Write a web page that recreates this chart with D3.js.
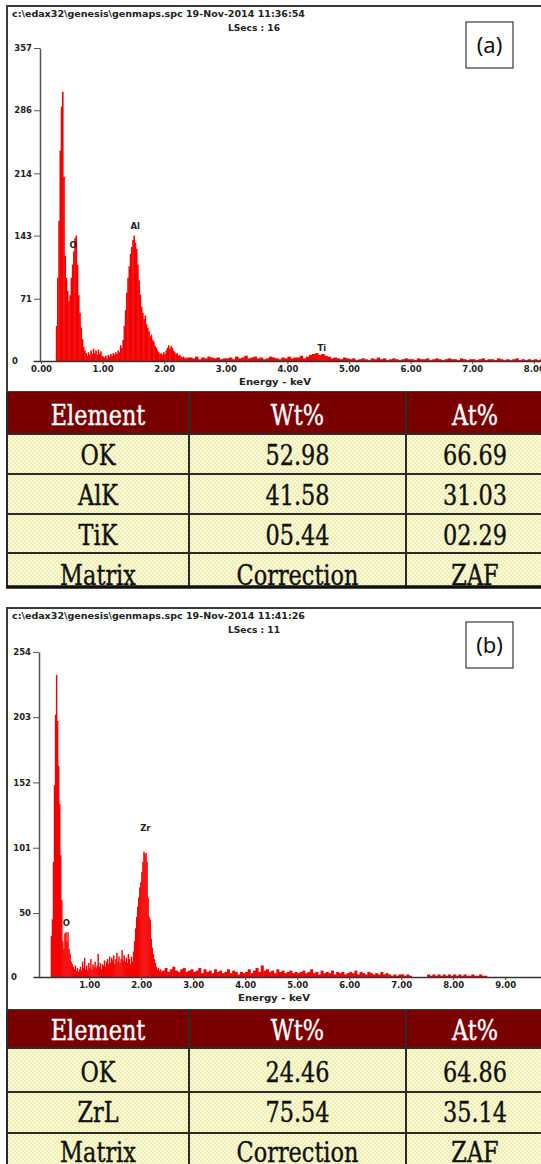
<!DOCTYPE html>
<html>
<head>
<meta charset="utf-8">
<script src="https://cdn.jsdelivr.net/npm/d3@7.9.0/dist/d3.min.js"></script>
<style>
  body { margin: 0; background: #fff; }
</style>
</head>
<body>
<script>
// ─── DATA ────────────────────────────────────────────────────────────────────
// spectrum (a): fine channels 0.20–2.38 keV (0.02 step), then tail 2.40–8.75 keV (0.05 step)
const peakStartA = 0.20, peakStepA = 0.02;
const peakCountsA = [
  0, 0, 40, 95, 160, 240, 290, 307, 210, 120,
  95, 80, 68, 75, 95, 110, 125, 140, 143, 110,
  75, 55, 38, 25, 16, 12, 9, 6, 10, 7,
  12, 8, 14, 9, 12, 7, 13, 8, 11, 6,
  5, 4, 6, 3, 7, 5, 8, 6, 9, 7,
  10, 8, 12, 10, 18, 15, 24, 40, 58, 78,
  95, 108, 122, 130, 138, 143, 135, 128, 110, 92,
  76, 62, 55, 48, 52, 42, 38, 34, 28, 30,
  24, 22, 17, 15, 12, 10, 8, 9, 7, 10,
  8, 12, 15, 18, 14, 17, 15, 12, 10, 8,
  9, 6, 7, 5, 4, 5, 3, 4, 3, 4
];
const tailStartA = 2.40, tailStepA = 0.05;
const tailCountsA = [
  4, 3, 5, 2, 4, 3, 5, 4, 3, 4, 2, 3,
  3, 4, 2, 5, 3, 4, 6, 3, 4, 5, 3, 4, 2, 3, 5, 4, 3, 2, 4, 3,
  5, 3, 4, 4, 6, 3, 5, 7, 8, 9, 7, 8, 6, 5, 3, 4, 3, 2, 4, 3,
  2, 3, 1, 2, 3, 2, 1, 3, 2, 4, 2, 3, 1, 2, 3, 2, 1, 2, 3, 2,
  2, 1, 3, 2, 2, 3, 1, 2, 3, 2, 1, 2, 3, 2, 2, 1, 3, 2, 1, 2,
  2, 1, 2, 3, 1, 2, 2, 1, 3, 2, 1, 2, 1, 2, 3, 1, 2, 1, 2, 1,
  2, 1, 2, 1, 1, 2, 1, 2, 1, 1, 2, 1, 1, 2, 1, 1
];
const yTicksA = [0, 71, 143, 214, 286, 357];
const xTicksA = [0, 1, 2, 3, 4, 5, 6, 7, 8];
const peakNamesA = ['O', 'Al', 'Ti'];
const peakKeVA = [0.52, 1.53, 4.56];
const peakLabelCountsA = [129, 150, 11];

// spectrum (b)
const peakStartB = 0.20, peakStepB = 0.02;
const peakCountsB = [
  0, 0, 0, 32, 45, 90, 150, 205, 236, 200,
  165, 135, 95, 60, 28, 22, 34, 35, 28, 35,
  22, 18, 12, 10, 8, 6, 9, 5, 7, 4,
  6, 8, 5, 12, 7, 15, 6, 9, 5, 11,
  7, 14, 6, 10, 8, 12, 7, 9, 18, 8,
  11, 6, 10, 9, 13, 8, 12, 14, 10, 16,
  11, 15, 13, 17, 10, 14, 19, 12, 16, 11,
  14, 21, 13, 17, 12, 15, 11, 18, 14, 10,
  16, 12, 20, 28, 38, 47, 55, 62, 70, 74,
  82, 90, 98, 96, 97, 90, 62, 47, 45, 30,
  23, 18, 14, 11, 8, 6, 7, 5, 6, 4
];
const tailStartB = 2.40, tailStepB = 0.05;
const tailCountsB = [
  5, 7, 4, 6, 8, 5, 4, 6, 7, 4, 5, 6,
  4, 5, 7, 3, 6, 4, 5, 3, 6, 4, 5, 3, 4, 6, 3, 5, 4, 2, 4, 3,
  4, 6, 3, 5, 7, 4, 9, 5, 6, 4, 5, 3, 6, 4, 5, 3, 4, 5, 3, 4,
  3, 4, 5, 3, 4, 6, 3, 4, 2, 5, 3, 4, 3, 5, 2, 4, 3, 4, 2, 3,
  4, 3, 5, 2, 4, 3, 2, 4, 3, 2, 3, 2, 4, 2, 3, 2, 1, 2, 1, 2,
  2, 1, 2, 1, 0, 0, 0, 0, 0, 0, 2, 1, 2, 1, 2, 1, 2, 1, 2, 1,
  2, 1, 2, 1, 2, 1, 1, 2, 1, 1, 2, 1, 1, 0, 0, 0
];
const yTicksB = [0, 50, 101, 152, 203, 254];
const xTicksB = [1, 2, 3, 4, 5, 6, 7, 8, 9, 10];
const peakNamesB = ['O', 'Zr'];
const peakKeVB = [0.56, 2.08];
const peakLabelCountsB = [40, 114];

// quantification tables
const tableHeader = ['Element', 'Wt%', 'At%'];
const elementsA = ['OK', 'AlK', 'TiK'];
const wtA = ['52.98', '41.58', '05.44'];
const atA = ['66.69', '31.03', '02.29'];
const elementsB = ['OK', 'ZrL'];
const wtB = ['24.46', '75.54'];
const atB = ['64.86', '35.14'];
const matrixRow = ['Matrix', 'Correction', 'ZAF'];

// ─── SVG ─────────────────────────────────────────────────────────────────────
const W = 541, H = 1164;
const SANS = '"DejaVu Sans", Verdana, sans-serif';
const SERIF = '"DejaVu Serif", "Liberation Serif", serif';

const svg = d3.select('body').append('svg')
  .attr('width', W).attr('height', H);

const defs = svg.append('defs');
const pat = defs.append('pattern')
  .attr('id', 'dither')
  .attr('patternUnits', 'userSpaceOnUse')
  .attr('width', 4).attr('height', 4);
pat.append('rect').attr('width', 4).attr('height', 4).attr('fill', '#fcfcd0');
pat.append('rect').attr('width', 2).attr('height', 2).attr('fill', '#ededbb');
pat.append('rect').attr('x', 2).attr('y', 2).attr('width', 2).attr('height', 2).attr('fill', '#ededbb');

// ─── SPECTRUM PANEL ──────────────────────────────────────────────────────────
function drawSpectrum(o) {
  const g = svg.append('g');

  // frame
  g.append('rect')
    .attr('x', 7).attr('y', o.frameTop)
    .attr('width', 560).attr('height', o.frameBottom - o.frameTop)
    .attr('fill', '#fff').attr('stroke', '#3a3a3a').attr('stroke-width', 2);

  g.append('text')
    .attr('x', 12).attr('y', o.frameTop + 10.5)
    .style('font-family', SANS).style('font-size', '8px').style('font-weight', 'bold')
    .attr('fill', '#222')
    .attr('textLength', 293).attr('lengthAdjust', 'spacingAndGlyphs')
    .text(o.title);
  g.append('text')
    .attr('x', 228).attr('y', o.frameTop + 25)
    .style('font-family', SANS).style('font-size', '8px').style('font-weight', 'bold')
    .attr('fill', '#222')
    .attr('textLength', 52).attr('lengthAdjust', 'spacingAndGlyphs')
    .text(o.lsecs);

  // panel letter box
  g.append('rect')
    .attr('x', 466).attr('y', o.boxTop).attr('width', 47).attr('height', 46)
    .attr('fill', '#fff').attr('stroke', '#111').attr('stroke-width', 1);
  g.append('text')
    .attr('x', 489.5).attr('y', o.boxTop + 31)
    .attr('text-anchor', 'middle')
    .style('font-family', '"Noto Sans", sans-serif').style('font-size', '22px')
    .attr('fill', '#111')
    .text(o.letter);

  const x = d3.scaleLinear().domain(o.xDomain).range([33, 33 + (o.xDomain[1] - o.xDomain[0]) * o.pxPerKeV]);
  const y = d3.scaleLinear().domain([0, o.yMax]).range([o.y0, o.y0 - o.yMax * o.pxPerCount]);

  // bins
  const bins = o.peak.map((c, i) => ({ e: o.peakStart + i * o.peakStep, w: o.peakStep, c }))
    .concat(o.tail.map((c, i) => ({ e: o.tailStart + i * o.tailStep, w: o.tailStep, c })));

  g.append('g').selectAll('rect')
    .data(bins.filter(d => d.c > 0))
    .join('rect')
      .attr('x', d => x(d.e))
      .attr('width', d => x(d.e + d.w) - x(d.e) + 0.4)
      .attr('y', d => y(d.c))
      .attr('height', d => y(0) - y(d.c))
      .attr('fill', '#f40000');

  // y axis
  const yAxis = g.append('g')
    .attr('transform', `translate(${o.yAxisX},0)`)
    .call(d3.axisLeft(y).tickValues(o.yTicks).tickSize(6).tickSizeOuter(0).tickPadding(2).tickFormat(d3.format('d')));
  yAxis.select('.domain').attr('stroke', '#555').attr('stroke-width', 1.5);
  yAxis.selectAll('.tick line').attr('stroke', '#555');
  yAxis.selectAll('.tick text')
    .style('font-family', SANS).style('font-size', '8.5px').style('font-weight', 'bold')
    .attr('fill', '#222');
  yAxis.selectAll('.tick').filter(d => d === 0).select('line').remove();
  yAxis.selectAll('.tick').filter(d => d === 0).select('text').attr('x', -22);

  // x axis
  const xAxis = g.append('g')
    .attr('transform', `translate(0,${o.y0})`)
    .call(d3.axisBottom(x).tickValues(o.xTicks).tickSize(3).tickSizeOuter(0).tickPadding(2).tickFormat(d3.format('.2f')));
  xAxis.select('.domain').attr('stroke', '#333').attr('stroke-width', 1.5);
  xAxis.selectAll('.tick line').attr('stroke', '#444');
  xAxis.selectAll('.tick text')
    .style('font-family', SANS).style('font-size', '8.5px').style('font-weight', 'bold')
    .attr('fill', '#222');

  g.append('text')
    .attr('x', o.xLabelX).attr('y', o.y0 + 24)
    .attr('text-anchor', 'middle')
    .style('font-family', SANS).style('font-size', '8.5px').style('font-weight', 'bold')
    .attr('fill', '#222')
    .attr('textLength', 72).attr('lengthAdjust', 'spacingAndGlyphs')
    .text('Energy - keV');

  // peak labels
  o.names.forEach((n, i) => {
    g.append('text')
      .attr('x', x(o.keV[i])).attr('y', y(o.labelCounts[i]))
      .attr('text-anchor', 'middle')
      .style('font-family', SANS).style('font-size', '8.5px').style('font-weight', 'bold')
      .attr('fill', '#222')
      .text(n);
  });
}

// ─── TABLE ───────────────────────────────────────────────────────────────────
function drawTable(o) {
  const g = svg.append('g');
  const cols = [7, 189, 406, 545];
  const centers = [98, 297.5, 475];
  const lines = o.lines;
  const last = lines[lines.length - 1];

  g.append('rect')
    .attr('x', cols[0]).attr('y', lines[0])
    .attr('width', cols[3] - cols[0]).attr('height', lines[1] - lines[0])
    .attr('fill', '#7a0000');
  g.append('rect')
    .attr('x', cols[0]).attr('y', lines[1])
    .attr('width', cols[3] - cols[0]).attr('height', last - lines[1])
    .attr('fill', 'url(#dither)');

  // grid
  lines.slice(1, lines.length - 1).forEach(ly => {
    g.append('line').attr('x1', cols[0]).attr('x2', cols[3])
      .attr('y1', ly).attr('y2', ly).attr('stroke', '#2b2b2b').attr('stroke-width', 2);
  });
  cols.slice(0, 3).forEach(cx => {
    g.append('line').attr('x1', cx).attr('x2', cx)
      .attr('y1', lines[0]).attr('y2', last)
      .attr('stroke', '#2b2b2b').attr('stroke-width', 2);
  });
  if (o.bottomLine) {
    g.append('line').attr('x1', cols[0] - 1).attr('x2', cols[3])
      .attr('y1', o.bottomLine).attr('y2', o.bottomLine)
      .attr('stroke', '#111').attr('stroke-width', 3.5);
  }

  o.rows.forEach((r, ri) => {
    r.forEach((t, ci) => {
      g.append('text')
        .attr('transform', `translate(${centers[ci]},${o.baselines[ri]}) scale(0.8,1)`)
        .attr('text-anchor', 'middle')
        .style('font-family', SERIF).style('font-size', '28px')
        .attr('fill', ri === 0 ? '#fff' : '#111')
        .attr('stroke', ri === 0 ? '#fff' : '#111')
        .attr('stroke-width', 0.4)
        .text(t);
    });
  });
}

// ─── PANEL (a) ───────────────────────────────────────────────────────────────
drawSpectrum({
  frameTop: 6, frameBottom: 392, boxTop: 22,
  title: 'c:\\edax32\\genesis\\genmaps.spc  19-Nov-2014 11:36:54',
  lsecs: 'LSecs : 16', letter: '(a)',
  xDomain: [-0.13, 9.2], pxPerKeV: 61.6,
  yMax: 357, y0: 361, pxPerCount: 313 / 357, yAxisX: 40,
  peak: peakCountsA, peakStart: peakStartA, peakStep: peakStepA,
  tail: tailCountsA, tailStart: tailStartA, tailStep: tailStepA,
  yTicks: yTicksA, xTicks: xTicksA, xLabelX: 275,
  names: peakNamesA, keV: peakKeVA, labelCounts: peakLabelCountsA
});
drawTable({
  lines: [392, 434, 474, 514, 553, 588],
  baselines: [425, 465, 505, 545, 585],
  bottomLine: 587,
  rows: [tableHeader].concat(elementsA.map((e, i) => [e, wtA[i], atA[i]]), [matrixRow])
});

// ─── PANEL (b) ───────────────────────────────────────────────────────────────
drawSpectrum({
  frameTop: 608, frameBottom: 1010, boxTop: 622,
  title: 'c:\\edax32\\genesis\\genmaps.spc  19-Nov-2014 11:41:26',
  lsecs: 'LSecs : 11', letter: '(b)',
  xDomain: [-0.08, 10.5], pxPerKeV: 52,
  yMax: 254, y0: 977, pxPerCount: 1.28, yAxisX: 39,
  peak: peakCountsB, peakStart: peakStartB, peakStep: peakStepB,
  tail: tailCountsB, tailStart: tailStartB, tailStep: tailStepB,
  yTicks: yTicksB, xTicks: xTicksB, xLabelX: 274,
  names: peakNamesB, keV: peakKeVB, labelCounts: peakLabelCountsB
});
drawTable({
  lines: [1010, 1048, 1092, 1133, 1180],
  baselines: [1040, 1082, 1122, 1162],
  bottomLine: null,
  rows: [tableHeader].concat(elementsB.map((e, i) => [e, wtB[i], atB[i]]), [matrixRow])
});
</script>
</body>
</html>
